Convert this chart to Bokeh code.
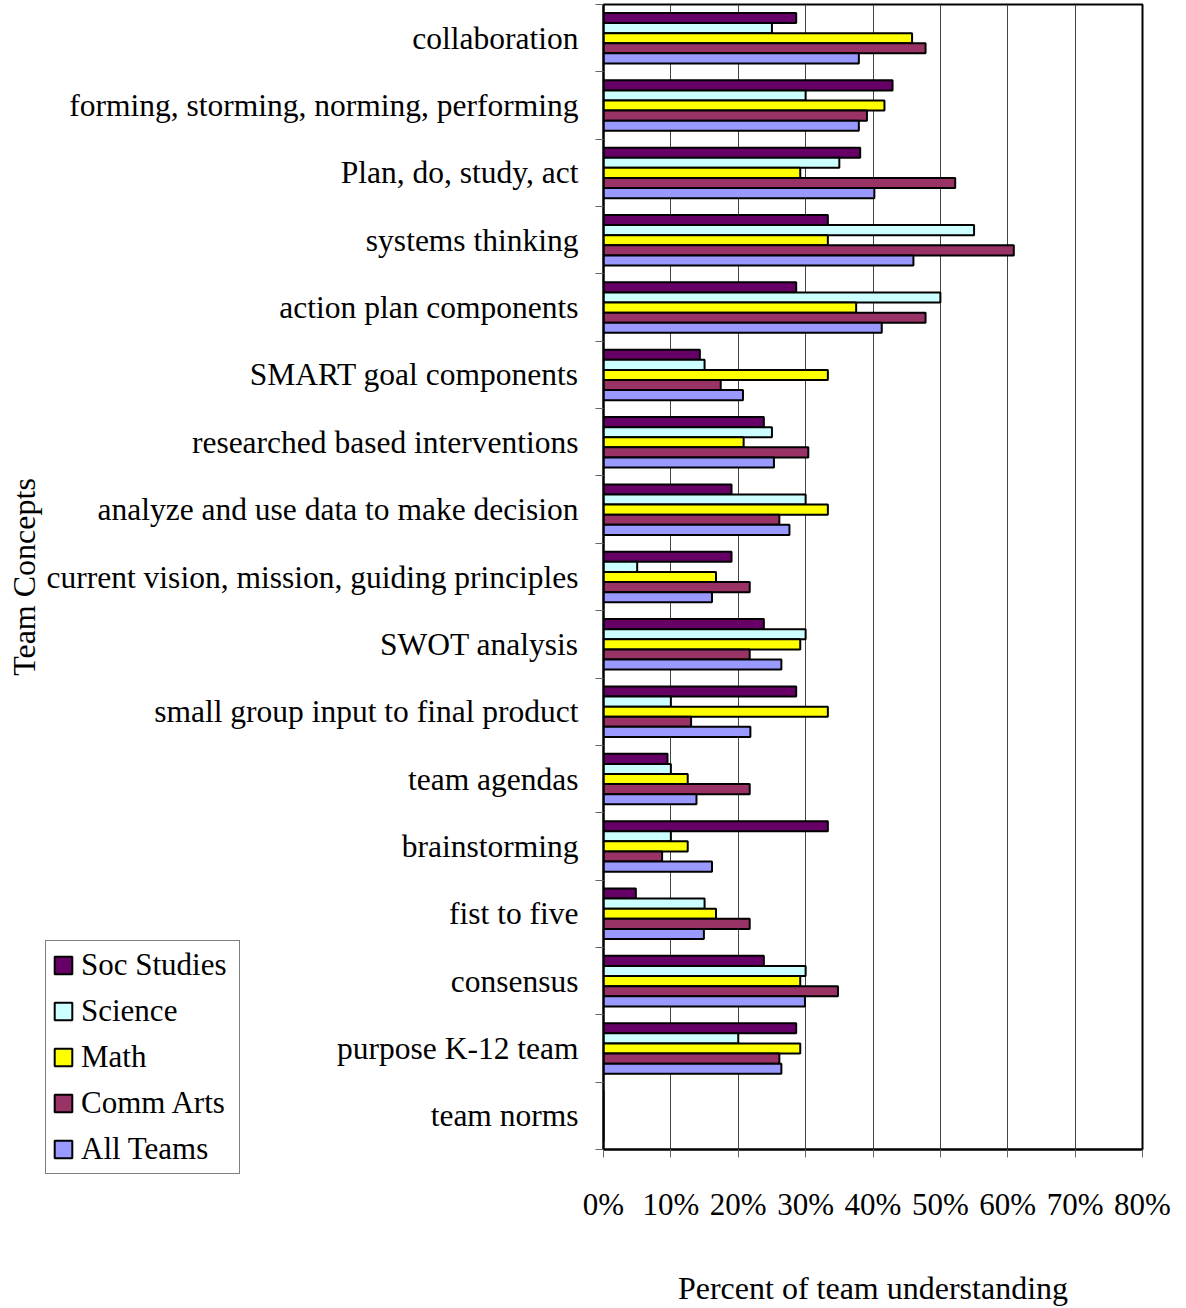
from bokeh.plotting import figure
from bokeh.models import (ColumnDataSource, Range1d, FixedTicker, NumeralTickFormatter,
                          Legend, LegendItem)
from bokeh.layouts import column
from bokeh.transform import dodge
from bokeh.embed import file_html
from bokeh.resources import INLINE

# Team concepts, listed top to bottom
concepts = [
    "collaboration",
    "forming, storming, norming, performing",
    "Plan, do, study, act",
    "systems thinking",
    "action plan components",
    "SMART goal components",
    "researched based interventions",
    "analyze and use data to make decision",
    "current vision, mission, guiding principles",
    "SWOT analysis",
    "small group input to final product",
    "team agendas",
    "brainstorming",
    "fist to five",
    "consensus",
    "purpose K-12 team",
    "team norms",
]

# Share of each team reporting understanding (fractions)
soc_studies = [0.286, 0.429, 0.381, 0.333, 0.286, 0.143, 0.238, 0.190, 0.190, 0.238,
               0.286, 0.095, 0.333, 0.048, 0.238, 0.286, 0.0]
science = [0.250, 0.300, 0.350, 0.550, 0.500, 0.150, 0.250, 0.300, 0.050, 0.300,
           0.100, 0.100, 0.100, 0.150, 0.300, 0.200, 0.0]
math = [0.458, 0.417, 0.292, 0.333, 0.375, 0.333, 0.208, 0.333, 0.167, 0.292,
        0.333, 0.125, 0.125, 0.167, 0.292, 0.292, 0.0]
comm_arts = [0.478, 0.391, 0.522, 0.609, 0.478, 0.174, 0.304, 0.261, 0.217, 0.217,
             0.130, 0.217, 0.087, 0.217, 0.348, 0.261, 0.0]
all_teams = [0.379, 0.379, 0.402, 0.460, 0.413, 0.207, 0.253, 0.276, 0.161, 0.264,
             0.218, 0.138, 0.161, 0.149, 0.299, 0.264, 0.0]

series_names = ["Soc Studies", "Science", "Math", "Comm Arts", "All Teams"]
series_values = [soc_studies, science, math, comm_arts, all_teams]
series_colors = ["#660066", "#CCFFFF", "#FFFF00", "#993366", "#9999FF"]

x_ticks = [0.0, 0.1, 0.2, 0.3, 0.4, 0.5, 0.6, 0.7, 0.8]

FONT = "Liberation Serif"
n = len(concepts)
centers = [n - i - 0.5 for i in range(n)]
boundaries = list(range(n + 1))

data = {"y": centers, "label": concepts}
for name, vals in zip(series_names, series_values):
    data[name] = vals
source = ColumnDataSource(data)

p = figure(width=1186, height=1308, output_backend="svg", toolbar_location=None,
           x_range=Range1d(0, 0.8), y_range=Range1d(0, n),
           min_border_left=603, min_border_right=44, min_border_top=4,
           min_border_bottom=151)

bar_h = 0.15
offsets = [0.3, 0.15, 0.0, -0.15, -0.3]
for name, color, off in zip(series_names, series_colors, offsets):
    p.hbar(y=dodge("y", off), right=name, left=0, height=bar_h, source=source,
           fill_color=color, line_color="black", line_width=2)

# x axis
p.xaxis.ticker = FixedTicker(ticks=x_ticks)
p.xaxis.formatter = NumeralTickFormatter(format="0%")
p.xaxis.major_tick_out = 8
p.xaxis.major_tick_in = 0
p.xaxis.minor_tick_out = 0
p.xaxis.major_label_standoff = 29
p.xaxis.major_label_text_font = FONT
p.xaxis.major_label_text_font_size = "31px"
p.xaxis.major_label_text_color = "black"
p.xaxis.axis_label = "Percent of team understanding"
p.xaxis.axis_label_text_font = FONT
p.xaxis.axis_label_text_font_size = "32px"
p.xaxis.axis_label_text_font_style = "normal"
p.xaxis.axis_label_text_color = "black"
p.xaxis.axis_label_standoff = 45
p.xaxis.axis_line_color = "black"
p.xaxis.axis_line_width = 2
p.xaxis.major_tick_line_color = "#666666"

# y axis: labels at category centers, tick marks at category boundaries
p.yaxis.ticker = FixedTicker(ticks=centers, minor_ticks=boundaries)
p.yaxis.major_label_overrides = {c: lab for c, lab in zip(centers, concepts)}
p.yaxis.major_tick_out = 0
p.yaxis.major_tick_in = 0
p.yaxis.minor_tick_out = 8
p.yaxis.minor_tick_in = 0
p.yaxis.minor_tick_line_color = "#666666"
p.yaxis.major_label_standoff = 17
p.yaxis.major_label_text_font = FONT
p.yaxis.major_label_text_font_size = "31.5px"
p.yaxis.major_label_text_color = "black"
p.yaxis.axis_label = "Team Concepts"
p.yaxis.axis_label_text_font = FONT
p.yaxis.axis_label_text_font_size = "32px"
p.yaxis.axis_label_text_font_style = "normal"
p.yaxis.axis_label_text_color = "black"
p.yaxis.axis_label_standoff = 2
p.yaxis.axis_line_color = "black"
p.yaxis.axis_line_width = 2

p.xgrid.ticker = FixedTicker(ticks=x_ticks)
p.xgrid.grid_line_color = "#444444"
p.xgrid.grid_line_width = 1
p.ygrid.grid_line_color = None

p.outline_line_color = "black"
p.outline_line_width = 2
p.background_fill_color = "white"
p.border_fill_color = "white"

# Legend panel: a small overlay figure placed in the lower-left corner.
# Its swatch renderers share the team data but lie outside its ranges,
# so only the legend entries show.
key = figure(width=200, height=250, output_backend="svg", toolbar_location=None,
             x_axis_type=None, y_axis_type=None, min_border=0,
             x_range=Range1d(10, 11), y_range=Range1d(-100, -99))
key.outline_line_color = None
key.background_fill_alpha = 0
key.border_fill_alpha = 0
items = []
for name, color, off in zip(series_names, series_colors, offsets):
    r = key.hbar(y=dodge("y", off), right=name, left=0, height=bar_h, source=source,
                 fill_color=color, line_color="black", line_width=2)
    items.append(LegendItem(label=name, renderers=[r]))

legend = Legend(items=items, location="top_left", orientation="vertical",
                label_text_font=FONT, label_text_font_size="31px",
                label_text_color="black", glyph_width=22, glyph_height=22,
                label_height=34, label_width=152,
                label_standoff=7, spacing=10, padding=6, margin=0,
                border_line_color="black", border_line_width=1,
                background_fill_color="white", background_fill_alpha=1.0)
key.add_layout(legend)
key.styles = {"position": "absolute", "left": "45px", "top": "940px"}

page = column(p, key, spacing=0)

open("out.html", "w").write(file_html(page, INLINE))
